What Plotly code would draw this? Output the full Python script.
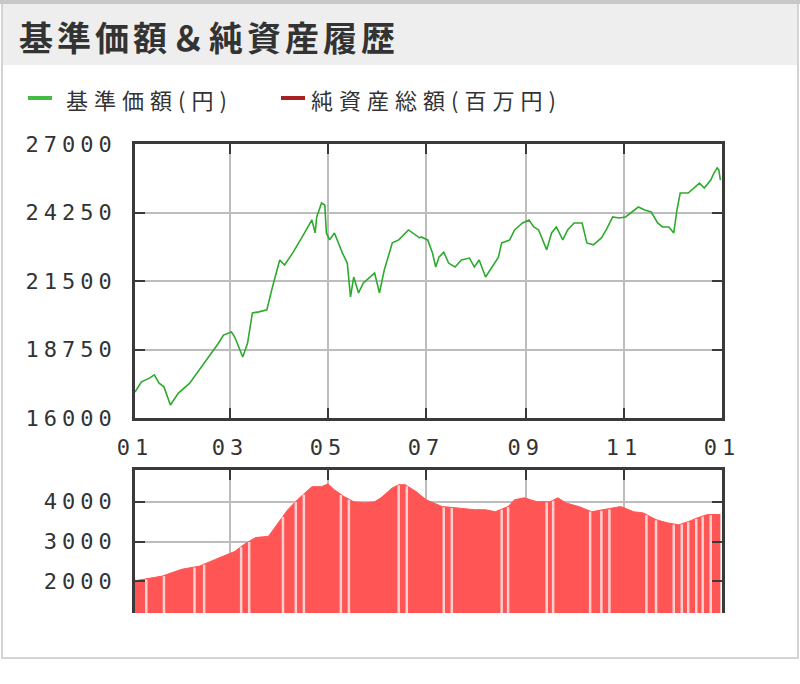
import numpy as np
import pandas as pd
import plotly.graph_objects as go

# ---------------- data ----------------
nav_dates = [
    "2013-01-01", "2013-01-05", "2013-01-10", "2013-01-13", "2013-01-16", "2013-01-19",
    "2013-01-23", "2013-01-28", "2013-02-04", "2013-02-10", "2013-02-16", "2013-02-22",
    "2013-02-25", "2013-03-02", "2013-03-04", "2013-03-09", "2013-03-12", "2013-03-15",
    "2013-03-19", "2013-03-24", "2013-03-27", "2013-04-01", "2013-04-04", "2013-04-09",
    "2013-04-15", "2013-04-21", "2013-04-23", "2013-04-24", "2013-04-27", "2013-04-29",
    "2013-04-30", "2013-05-02", "2013-05-05", "2013-05-10", "2013-05-13", "2013-05-15",
    "2013-05-17", "2013-05-20", "2013-05-23", "2013-05-27", "2013-05-30", "2013-06-02",
    "2013-06-05", "2013-06-10", "2013-06-14", "2013-06-20", "2013-06-27", "2013-06-28",
    "2013-07-02", "2013-07-05", "2013-07-07", "2013-07-09", "2013-07-12", "2013-07-15",
    "2013-07-19", "2013-07-23", "2013-07-28", "2013-07-31", "2013-08-03", "2013-08-07",
    "2013-08-11", "2013-08-15", "2013-08-17", "2013-08-22", "2013-08-25", "2013-08-30",
    "2013-09-03", "2013-09-06", "2013-09-09", "2013-09-12", "2013-09-14", "2013-09-17",
    "2013-09-20", "2013-09-24", "2013-09-27", "2013-10-01", "2013-10-06", "2013-10-09",
    "2013-10-13", "2013-10-18", "2013-10-21", "2013-10-25", "2013-10-29", "2013-11-02",
    "2013-11-06", "2013-11-10", "2013-11-14", "2013-11-18", "2013-11-22", "2013-11-25",
    "2013-11-29", "2013-12-02", "2013-12-04", "2013-12-06", "2013-12-11", "2013-12-15",
    "2013-12-18", "2013-12-21", "2013-12-25", "2013-12-27", "2013-12-29", "2013-12-30",
    "2013-12-31",
]
nav_values = [
    17040, 17450, 17600, 17730, 17400, 17250,
    16520, 17000, 17400, 17930, 18450, 19010,
    19330, 19450, 19250, 18450, 19010, 20220,
    20260, 20340, 21140, 22340, 22140, 22620,
    23270, 23950, 23430, 24070, 24630, 24550,
    23430, 23150, 23430, 22620, 22220, 20860,
    21660, 21020, 21420, 21660, 21820, 21020,
    21940, 23030, 23150, 23550, 23230, 23270,
    23150, 22620, 22060, 22460, 22660, 22220,
    22060, 22340, 22420, 22060, 22340, 21660,
    22060, 22460, 23030, 23150, 23550, 23830,
    23950, 23670, 23550, 23030, 22750, 23430,
    23670, 23150, 23550, 23830, 23830, 23030,
    22950, 23230, 23550, 24070, 24030, 24070,
    24270, 24470, 24350, 24270, 23830, 23670,
    23670, 23430, 24350, 25030, 25030, 25270,
    25430, 25230, 25550, 25830, 26040, 25960,
    25550,
]

aum_dates = [
    "2013-01-01", "2013-01-18", "2013-01-30", "2013-02-10", "2013-02-20", "2013-03-04",
    "2013-03-10", "2013-03-17", "2013-03-25", "2013-03-31", "2013-04-06", "2013-04-12",
    "2013-04-21", "2013-04-27", "2013-05-01", "2013-05-05", "2013-05-11", "2013-05-17",
    "2013-05-24", "2013-05-30", "2013-06-03", "2013-06-10", "2013-06-14", "2013-06-18",
    "2013-06-25", "2013-07-01", "2013-07-11", "2013-07-19", "2013-07-31", "2013-08-07",
    "2013-08-13", "2013-08-21", "2013-08-25", "2013-08-31", "2013-09-08", "2013-09-16",
    "2013-09-21", "2013-09-26", "2013-10-04", "2013-10-12", "2013-10-20", "2013-10-30",
    "2013-11-07", "2013-11-13", "2013-11-21", "2013-11-28", "2013-12-05", "2013-12-11",
    "2013-12-17", "2013-12-23", "2013-12-31",
]
aum_values = [
    2010, 2130, 2300, 2380, 2550, 2750,
    2930, 3100, 3130, 3470, 3800, 4050,
    4380, 4380, 4450, 4300, 4130, 4000,
    3970, 4000, 4100, 4350, 4430, 4430,
    4250, 4050, 3880, 3850, 3800, 3800,
    3750, 3880, 4050, 4100, 4000, 4000,
    4100, 3970, 3880, 3750, 3800, 3880,
    3750, 3720, 3550, 3470, 3420, 3500,
    3600, 3680, 3680,
]

# days without a net-asset bar (light stripes)
gap_dates = [
    "2013-01-08", "2013-01-19", "2013-02-07", "2013-02-13", "2013-03-08", "2013-03-13",
    "2013-04-03", "2013-04-11", "2013-04-16", "2013-05-09", "2013-05-14", "2013-06-14",
    "2013-06-19", "2013-07-12", "2013-07-17", "2013-08-17", "2013-08-21", "2013-09-14",
    "2013-09-18", "2013-10-11", "2013-10-18", "2013-10-23", "2013-11-15", "2013-11-21",
    "2013-12-02", "2013-12-07", "2013-12-11", "2013-12-16", "2013-12-20", "2013-12-25",
]

tick_dates = ["2013-01-01", "2013-03-01", "2013-05-01", "2013-07-01",
              "2013-09-01", "2013-11-01", "2014-01-01"]
tick_labels = ["01", "03", "05", "07", "09", "11", "01"]
nav_ticks = [16000, 18750, 21500, 24250, 27000]
aum_ticks = [2000, 3000, 4000]

title_text = "基準価額＆純資産履歴"
legend_nav = "基準価額(円)"
legend_aum = "純資産総額(百万円)"

# ---------------- layout helpers ----------------
W, H = 800, 684
ML, MR, MT, MB = 135, 78, 144, 71
PW, PH = W - ML - MR, H - MT - MB


def X(px):
    return (px - ML) / PW


def Y(py):
    return (H - MB - py) / PH


def spaced(s, px):
    return f"<span style='letter-spacing:{px}px'>{s}</span>"


MONO = "DejaVu Sans Mono"
CJK = "Noto Sans CJK JP"
AXC = "#3a3a3a"
GRID = "#bdbdbd"

fig = go.Figure()
fig.add_trace(go.Scatter(
    x=nav_dates, y=nav_values, mode="lines",
    line=dict(color="#2eaa2e", width=1.6), xaxis="x", yaxis="y",
    showlegend=False, hoverinfo="skip"))
fig.add_trace(go.Scatter(
    x=aum_dates, y=aum_values, mode="lines", fill="tozeroy",
    line=dict(color="#ff5555", width=1), fillcolor="#ff5555",
    xaxis="x2", yaxis="y2", showlegend=False, hoverinfo="skip"))

shapes = []
# widget frame and header band
shapes.append(dict(type="rect", xref="paper", yref="paper",
                   x0=X(2), x1=X(798), y0=Y(658), y1=Y(2),
                   line=dict(color="#d4d4d4", width=2), fillcolor="rgba(0,0,0,0)", layer="below"))
shapes.append(dict(type="rect", xref="paper", yref="paper",
                   x0=X(3), x1=X(797), y0=Y(65), y1=Y(4),
                   line=dict(width=0), fillcolor="#eeeeee", layer="below"))
shapes.append(dict(type="rect", xref="paper", yref="paper",
                   x0=X(0), x1=X(800), y0=Y(4), y1=Y(0),
                   line=dict(width=0), fillcolor="#c8c8c8", layer="below"))
# legend keys
shapes.append(dict(type="line", xref="paper", yref="paper",
                   x0=X(28), x1=X(52), y0=Y(98), y1=Y(98),
                   line=dict(color="#44bb44", width=4)))
shapes.append(dict(type="line", xref="paper", yref="paper",
                   x0=X(281), x1=X(305), y0=Y(98), y1=Y(98),
                   line=dict(color="#a82020", width=4)))

# gap stripes: each runs from the bottom up to the area's top edge on that day
aum_t = pd.to_datetime(aum_dates).values.astype("datetime64[s]").astype(np.int64)
gap_t = pd.to_datetime(gap_dates).values.astype("datetime64[s]").astype(np.int64)
gap_top = np.interp(gap_t, aum_t, aum_values)
for d, top in zip(gap_dates, gap_top):
    shapes.append(dict(type="line", xref="x2", yref="y2",
                       x0=d, x1=d, y0=1200, y1=float(top) - 15,
                       line=dict(color="rgba(255,255,255,0.72)", width=2.5), layer="above"))

annotations = [
    dict(text=spaced(title_text, 4), xref="paper", yref="paper", x=X(17), y=Y(37),
         xanchor="left", yanchor="middle", showarrow=False,
         font=dict(family=CJK, size=34, color="#333333", weight="bold")),
    dict(text=spaced(legend_nav, 6), xref="paper", yref="paper", x=X(64), y=Y(99),
         xanchor="left", yanchor="middle", showarrow=False,
         font=dict(family=CJK, size=22, color="#333333")),
    dict(text=spaced(legend_aum, 6), xref="paper", yref="paper", x=X(309), y=Y(99),
         xanchor="left", yanchor="middle", showarrow=False,
         font=dict(family=CJK, size=22, color="#333333")),
]

tickfont = dict(family=MONO, size=22, color="#333333")


def tl(vals):
    return [spaced(str(v), 5) for v in vals]


fig.update_layout(
    width=W, height=H,
    margin=dict(l=ML, r=MR, t=MT, b=MB, pad=0),
    paper_bgcolor="white", plot_bgcolor="white",
    showlegend=False,
    shapes=shapes, annotations=annotations,
    xaxis=dict(type="date", range=["2013-01-01", "2014-01-01"], domain=[0, 1],
               anchor="y", tickvals=tick_dates, ticktext=tl(tick_labels),
               tickfont=tickfont, ticks="inside", ticklen=10, tickwidth=2,
               tickcolor=AXC, showline=True, linecolor=AXC, linewidth=2.5,
               mirror="allticks", showgrid=True, gridcolor=GRID, gridwidth=2,
               zeroline=False, ticklabelstandoff=8),
    yaxis=dict(range=[16000, 27000], domain=[Y(418), 1], anchor="x",
               tickvals=nav_ticks, ticktext=tl(nav_ticks),
               tickfont=tickfont, ticks="inside", ticklen=10, tickwidth=2,
               tickcolor=AXC, showline=True, linecolor=AXC, linewidth=2.5,
               mirror="allticks", showgrid=True, gridcolor=GRID, gridwidth=2,
               zeroline=False, ticklabelstandoff=11),
    xaxis2=dict(type="date", range=["2013-01-01", "2014-01-01"], domain=[0, 1],
                anchor="y2", side="top", tickvals=tick_dates, showticklabels=False,
                ticks="inside", ticklen=10, tickwidth=2, tickcolor=AXC,
                showline=True, linecolor=AXC, linewidth=2.5,
                showgrid=True, gridcolor=GRID, gridwidth=2, zeroline=False),
    yaxis2=dict(range=[1200, 4800], domain=[0, Y(470)], anchor="x2",
                tickvals=aum_ticks, ticktext=tl(aum_ticks),
                tickfont=tickfont, ticks="inside", ticklen=10, tickwidth=2,
                tickcolor=AXC, showline=True, linecolor=AXC, linewidth=2.5,
                mirror="allticks", showgrid=True, gridcolor=GRID, gridwidth=2,
                zeroline=False, ticklabelstandoff=11),
)

fig.write_html("out.html", config={"displayModeBar": False},
               post_script="document.body.style.margin='0px';")
